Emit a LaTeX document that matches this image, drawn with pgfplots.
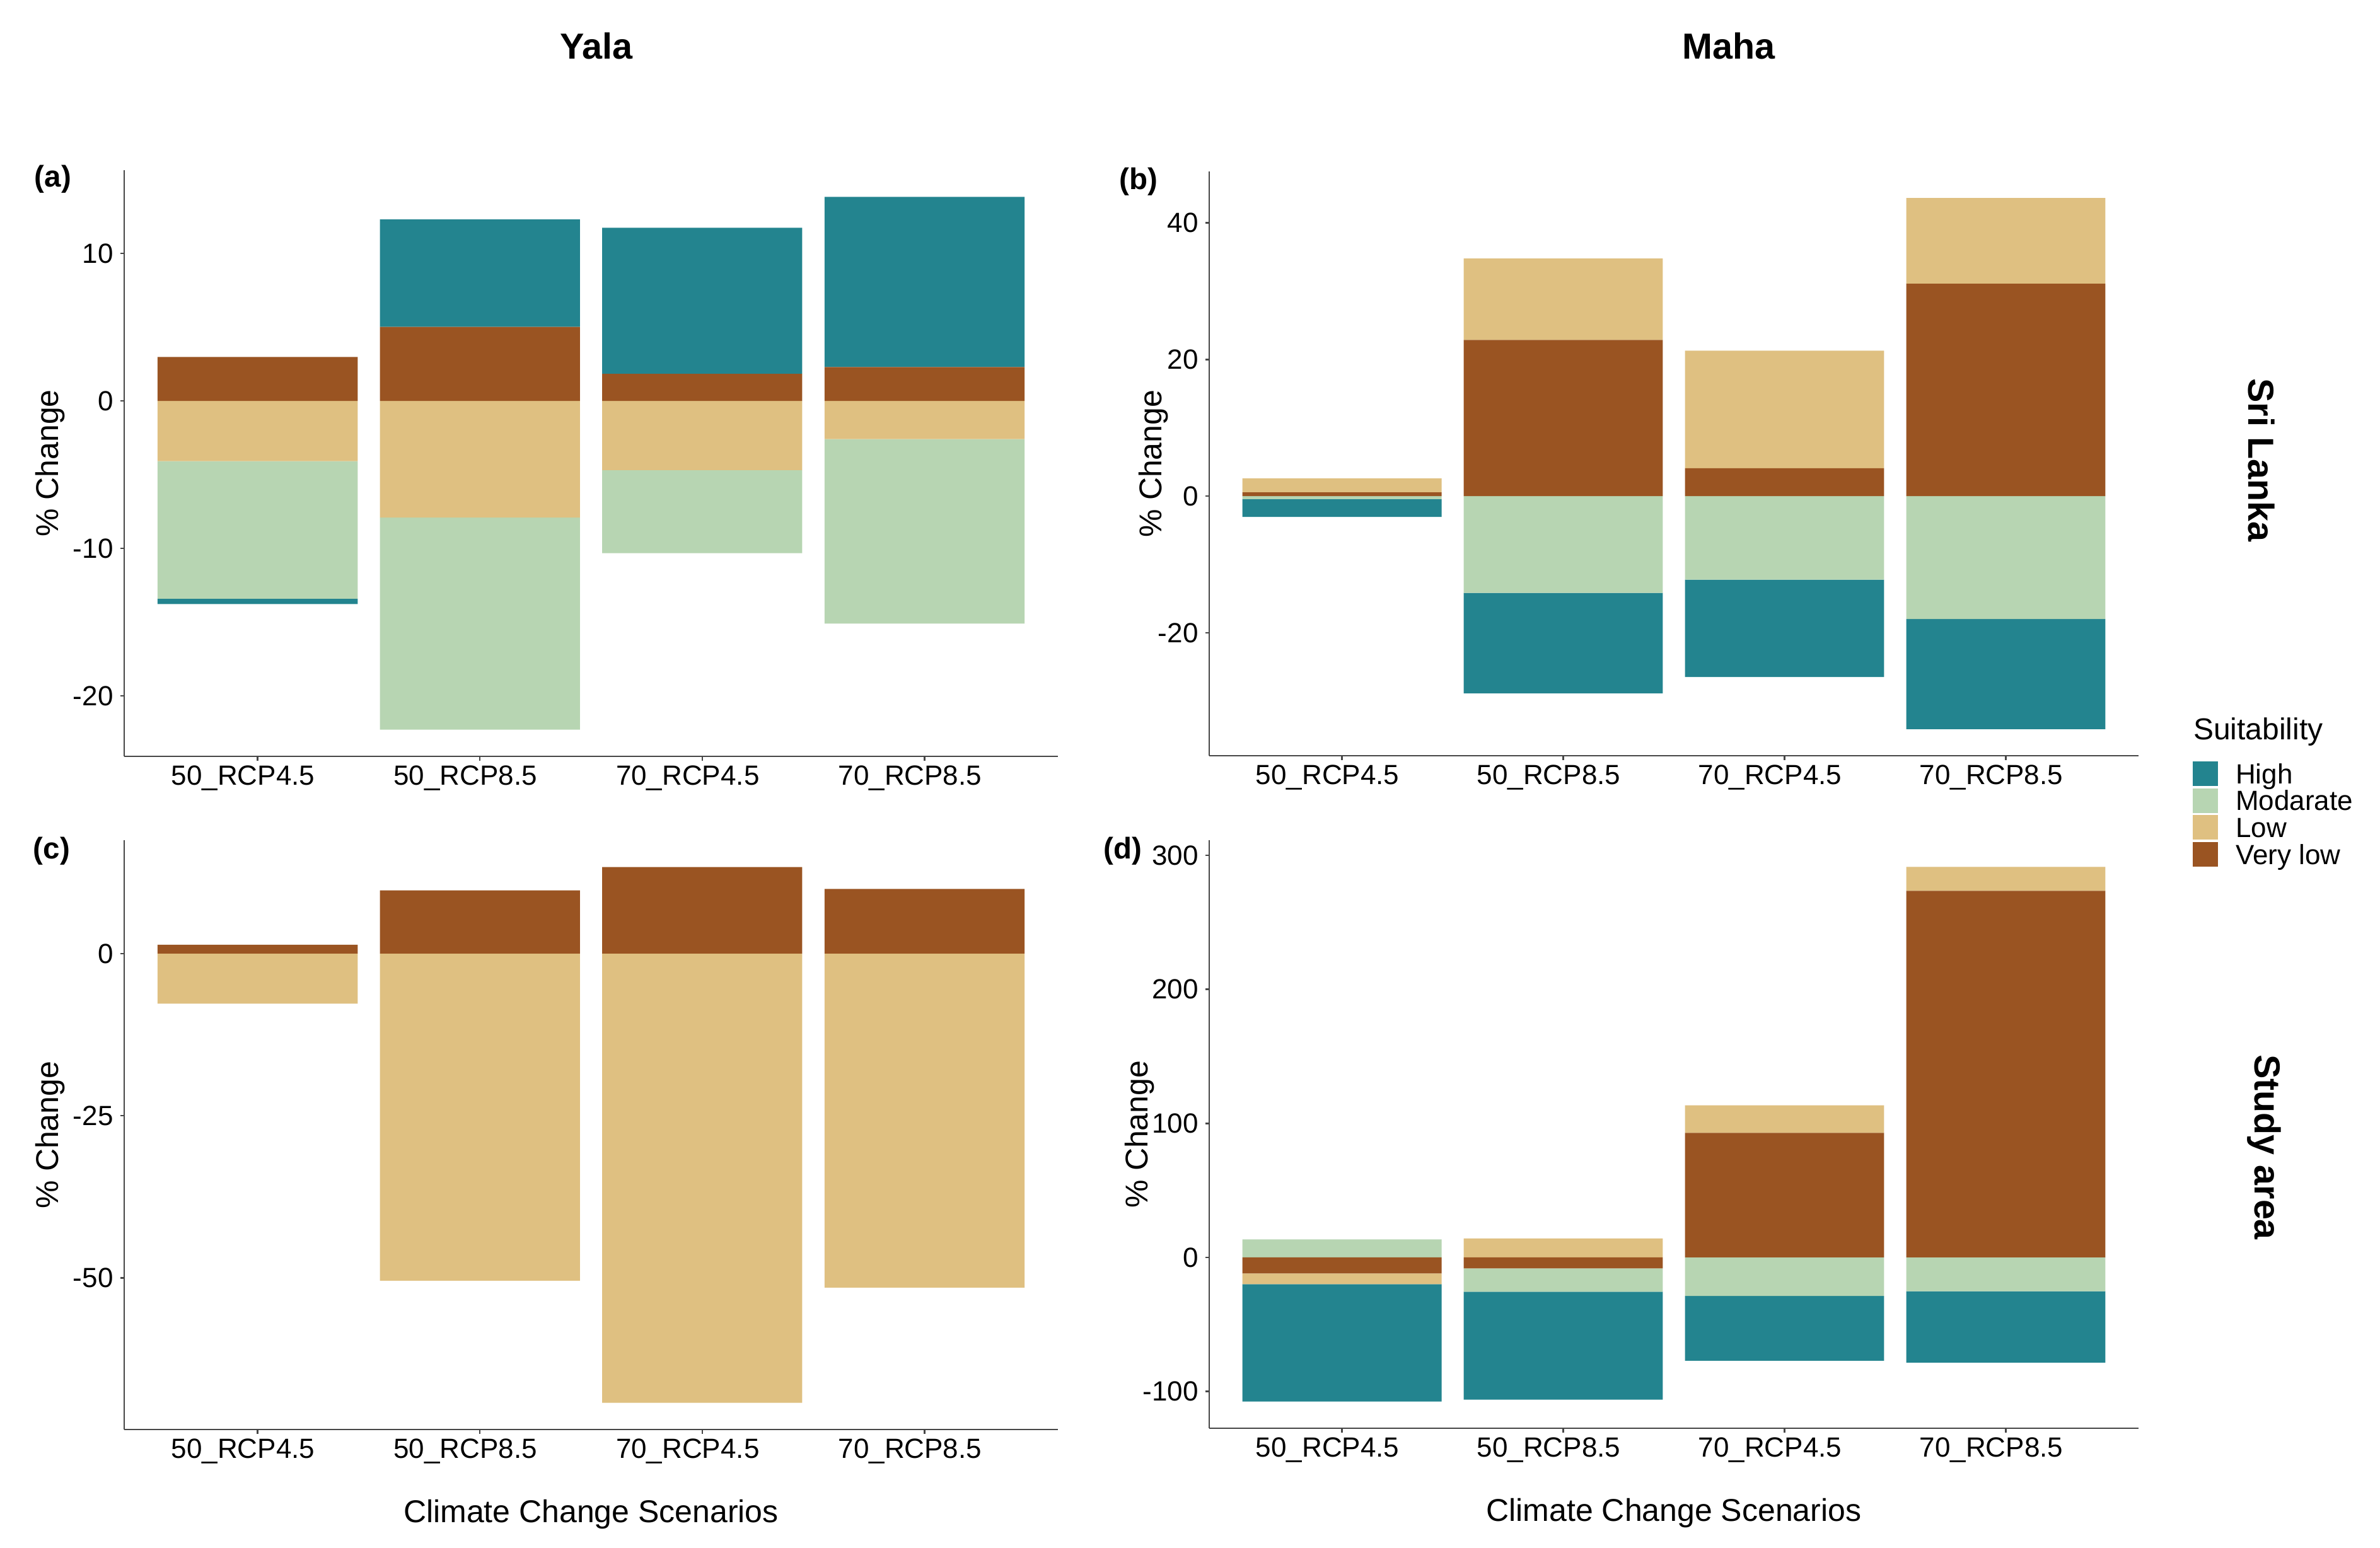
\documentclass[border=0pt]{standalone}
\usepackage{pgfplots}
\usepackage{pgfplotstable}
\pgfplotsset{compat=1.18}
\usepackage{fontspec}
\setmainfont{Liberation Sans}

\definecolor{cHigh}{RGB}{35,132,143}
\definecolor{cMod}{RGB}{183,213,178}
\definecolor{cLow}{RGB}{223,192,129}
\definecolor{cVL}{RGB}{154,84,34}
\definecolor{axgray}{RGB}{70,70,70}

% signed % change per suitability class; positives and negatives stack separately
\pgfplotstableread{
x VL L M H
0 2.98 -4.09 -9.32 -0.36
1 5.02 -7.91 -14.38 7.28
2 1.83 -4.69 -5.63 9.90
3 2.29 -2.59 -12.51 11.54
}\dataA
\pgfplotstableread{
x VL L M H
0 0.55 2.05 -0.45 -2.60
1 22.85 11.91 -14.17 -14.70
2 4.08 17.21 -12.23 -14.24
3 31.07 12.55 -17.99 -16.11
}\dataB
\pgfplotstableread{
x VL L M H
0 1.37 -7.72 0 0
1 9.74 -50.43 0 0
2 13.35 -69.26 0 0
3 9.96 -51.50 0 0
}\dataC
\pgfplotstableread{
x VL L M H
0 -12.0 -8.0 13.4 -87.6
1 -8.2 14.1 -17.4 -80.6
2 92.9 20.6 -28.8 -48.4
3 273.6 17.8 -25.3 -53.3
}\dataD

\pgfplotsset{
  panel/.style={
    scale only axis,
    ybar stacked, stack negative=separate, bar width=0.9,
    xmin=-0.6, xmax=3.6, enlargelimits=false,
    xtick={0,1,2,3},
    xticklabels={50\_RCP4.5,50\_RCP8.5,70\_RCP4.5,70\_RCP8.5},
    axis lines=left, axis line style={-, axgray, line width=0.55pt},
    tick align=outside, major tick length=1.3pt,
    tick style={axgray, line width=0.5pt},
    ytick style={axgray}, xtick style={axgray},
    /pgf/number format/assume math mode=true,
    ticklabel style={font=\fontsize{8.8}{10}\selectfont, black},
    xticklabel style={inner sep=1.5pt, xshift=-4.6pt},
    yticklabel style={inner sep=2pt},
    label style={font=\fontsize{10}{12}\selectfont},
    legend image code/.code={\fill[##1] (0pt,-3.25pt) rectangle (8pt,4.55pt);},
  },
}

\newcommand{\stackbars}[1]{%
  \addplot[fill=cVL, draw=none] table[x=x,y=VL]{#1};
  \addplot[fill=cLow, draw=none] table[x=x,y=L]{#1};
  \addplot[fill=cMod, draw=none] table[x=x,y=M]{#1};
  \addplot[fill=cHigh, draw=none] table[x=x,y=H]{#1};
}

\begin{document}
\begin{tikzpicture}
\path (0,0) rectangle (755pt,491pt);

% (a) Yala - Sri Lanka
\begin{axis}[panel, at={(39.4pt,251pt)}, anchor=south west,
  width=296.2pt, height=186pt,
  ymin=-24.1, ymax=15.64, ytick={-20,-10,0,10},
  ylabel={\% Change},
  every axis y label/.style={at={(axis description cs:-0.079,0.5)}, rotate=90, anchor=center}]
\stackbars{\dataA}
\end{axis}

% (b) Maha - Sri Lanka
\begin{axis}[panel, at={(383.6pt,251.2pt)}, anchor=south west,
  width=294.8pt, height=185.4pt,
  ymin=-37.99, ymax=47.51, ytick={-20,0,20,40},
  ylabel={\% Change},
  every axis y label/.style={at={(axis description cs:-0.0597,0.5)}, rotate=90, anchor=center},
  legend style={at={(axis description cs:1.0577,-0.0086)}, anchor=north west,
    draw=none, fill=none, inner sep=0pt, row sep=0.1pt, column sep=5.6pt,
    font=\fontsize{8.8}{9}\selectfont,
    nodes={inner sep=0pt, text height=6.4pt, text depth=1.4pt}},
  legend cell align=left]
\addlegendimage{fill=cHigh, draw=none}
\addlegendentry{High}
\addlegendimage{fill=cMod, draw=none}
\addlegendentry{Modarate}
\addlegendimage{fill=cLow, draw=none}
\addlegendentry{Low}
\addlegendimage{fill=cVL, draw=none}
\addlegendentry{Very low}
\stackbars{\dataB}
\end{axis}

% (c) Yala - Study area
\begin{axis}[panel, at={(39.4pt,37.4pt)}, anchor=south west,
  width=296.2pt, height=187pt,
  ymin=-73.39, ymax=17.48, ytick={-50,-25,0},
  ylabel={\% Change}, xlabel={Climate Change Scenarios},
  every axis y label/.style={at={(axis description cs:-0.079,0.5)}, rotate=90, anchor=center},
  every axis x label/.style={at={(axis description cs:0.5,-0.1444)}, anchor=center}]
\stackbars{\dataC}
\end{axis}

% (d) Maha - Study area
\begin{axis}[panel, at={(383.6pt,37.8pt)}, anchor=south west,
  width=294.8pt, height=186.6pt,
  ymin=-127.55, ymax=311.35, ytick={-100,0,100,200,300},
  ylabel={\% Change}, xlabel={Climate Change Scenarios},
  every axis y label/.style={at={(axis description cs:-0.0746,0.5)}, rotate=90, anchor=center},
  every axis x label/.style={at={(axis description cs:0.5,-0.1447)}, anchor=center}]
\stackbars{\dataD}
\end{axis}

% titles, strips, tags
\node[font=\bfseries\fontsize{11.5}{13}\selectfont] at (189.2pt,476.4pt) {Yala};
\node[font=\bfseries\fontsize{11.5}{13}\selectfont] at (548.4pt,476.4pt) {Maha};
\node[font=\bfseries\fontsize{11.5}{13}\selectfont, rotate=-90] at (717.4pt,345pt) {Sri Lanka};
\node[font=\bfseries\fontsize{11.5}{13}\selectfont, rotate=-90] at (718.2pt,127pt) {Study area};
\node[font=\bfseries\fontsize{9.5}{11}\selectfont] at (16.8pt,434.2pt) {(a)};
\node[font=\bfseries\fontsize{9.5}{11}\selectfont] at (361.2pt,433.4pt) {(b)};
\node[font=\bfseries\fontsize{9.5}{11}\selectfont] at (16.4pt,221pt) {(c)};
\node[font=\bfseries\fontsize{9.5}{11}\selectfont] at (356.2pt,221pt) {(d)};
\node[font=\fontsize{9.6}{11}\selectfont, anchor=base west, inner sep=0pt] at (695.6pt,256.4pt) {Suitability};

\pgfresetboundingbox
\path (0,0) rectangle (755pt,491pt);
\end{tikzpicture}
\end{document}
